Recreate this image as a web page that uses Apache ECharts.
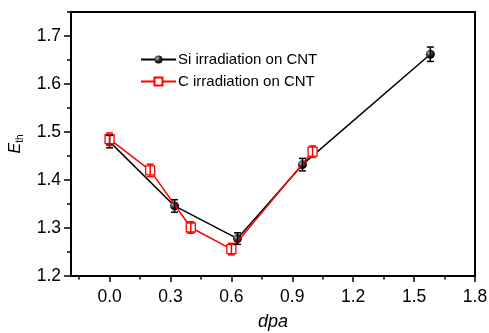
<!DOCTYPE html>
<html>
<head>
<meta charset="utf-8">
<script src="https://cdn.jsdelivr.net/npm/echarts@6/dist/echarts.min.js"></script>
<style>
  html, body { margin: 0; padding: 0; background: #fff; }
  #chart { width: 489px; height: 333px; }
</style>
</head>
<body>
<div id="chart"></div>
<script>
// values
const siDpa = [0, 0.32, 0.63, 0.95, 1.58];
const siEth = [1.48, 1.346, 1.278, 1.432, 1.662];
const siErr = [0.013, 0.013, 0.012, 0.013, 0.015];

const cDpa = [0, 0.2, 0.4, 0.6, 1.0];
const cEth = [1.485, 1.42, 1.301, 1.256, 1.459];
const cErr = [0.013, 0.013, 0.012, 0.012, 0.012];

const xMajor = [0, 0.3, 0.6, 0.9, 1.2, 1.5, 1.8];
const xMinor = [-0.15, 0.15, 0.45, 0.75, 1.05, 1.35, 1.65];
const yMajor = [1.2, 1.3, 1.4, 1.5, 1.6, 1.7];
const yMinor = [1.25, 1.35, 1.45, 1.55, 1.65, 1.75];

const font = "Liberation Sans, Arial, sans-serif";

const pairs = (xs, ys) => xs.map((x, i) => [x, ys[i]]);
const errRows = (xs, ys, es) => xs.map((x, i) => [x, ys[i] - es[i], ys[i] + es[i]]);

function errorBar(color) {
  return function (params, api) {
    const x = api.value(0);
    const lo = api.coord([x, api.value(1)]);
    const hi = api.coord([x, api.value(2)]);
    const cap = 3.5;
    const style = { stroke: color, lineWidth: 1.5 };
    return {
      type: "group",
      children: [
        { type: "line", shape: { x1: lo[0], y1: lo[1], x2: hi[0], y2: hi[1] }, style },
        { type: "line", shape: { x1: lo[0] - cap, y1: lo[1], x2: lo[0] + cap, y2: lo[1] }, style },
        { type: "line", shape: { x1: hi[0] - cap, y1: hi[1], x2: hi[0] + cap, y2: hi[1] }, style },
      ],
    };
  };
}

const xBase = {
  type: "value",
  min: -0.19,
  max: 1.8,
  position: "bottom",
  splitLine: { show: false },
  axisLine: { onZero: false, lineStyle: { color: "#000", width: 2 } },
};
const yBase = {
  type: "value",
  min: 1.2,
  max: 1.75,
  position: "left",
  splitLine: { show: false },
  axisLine: { onZero: false, lineStyle: { color: "#000", width: 2 } },
};

const chart = echarts.init(document.getElementById("chart"));
chart.setOption({
  animation: false,
  backgroundColor: "#fff",
  grid: {
    left: 71, top: 12, right: 14, bottom: 57,
    outerBoundsMode: "none",
    containLabel: false,
    show: true, borderColor: "#000", borderWidth: 2,
  },
  legend: {
    left: 135,
    top: 47,
    orient: "vertical",
    itemWidth: 35,
    itemHeight: 10,
    itemGap: 7,
    data: ["Si irradiation on CNT", "C irradiation on CNT"],
    textStyle: { fontFamily: font, fontSize: 15, lineHeight: 14, color: "#000", padding: [0, 0, 0, -3] },
  },
  xAxis: [
    Object.assign({}, xBase, {
      name: "dpa",
      nameLocation: "middle",
      nameGap: 37,
      nameTextStyle: { fontFamily: font, fontSize: 18, fontStyle: "italic", color: "#000" },
      axisTick: { customValues: xMajor, length: 6, lineStyle: { color: "#000", width: 1.5 } },
      axisLabel: { customValues: xMajor, margin: 12, fontFamily: font, fontSize: 17.5, color: "#000",
        formatter: v => v.toFixed(1) },
    }),
    Object.assign({}, xBase, {
      axisTick: { customValues: xMinor, length: 3.5, lineStyle: { color: "#000", width: 1.5 } },
      axisLabel: { show: false },
    }),
  ],
  yAxis: [
    Object.assign({}, yBase, {
      name: "{e|E}{s|th}",
      nameLocation: "middle",
      nameGap: 46,
      nameRotate: 90,
      nameTextStyle: {
        rich: {
          e: { fontFamily: font, fontSize: 16, fontStyle: "italic", color: "#000" },
          s: { fontFamily: font, fontSize: 10, color: "#000", padding: [9, 0, 0, 0] },
        },
      },
      axisTick: { customValues: yMajor, length: 7, lineStyle: { color: "#000", width: 1.5 } },
      axisLabel: { customValues: yMajor, margin: 10, fontFamily: font, fontSize: 17.5, color: "#000",
        formatter: v => v.toFixed(1) },
    }),
    Object.assign({}, yBase, {
      axisTick: { customValues: yMinor, length: 4, lineStyle: { color: "#000", width: 1.5 } },
      axisLabel: { show: false },
    }),
  ],
  series: [
    {
      name: "Si irradiation on CNT",
      type: "line",
      data: pairs(siDpa, siEth),
      symbol: "circle",
      symbolSize: 9,
      z: 3,
      lineStyle: { color: "#000", width: 1.5 },
      itemStyle: {
        borderWidth: 0,
        color: {
          type: "radial", x: 0.35, y: 0.35, r: 0.65,
          colorStops: [
            { offset: 0, color: "#bbbbbb" },
            { offset: 0.5, color: "#333333" },
            { offset: 1, color: "#000000" },
          ],
        },
      },
    },
    {
      name: "C irradiation on CNT",
      type: "line",
      data: pairs(cDpa, cEth),
      symbol: "rect",
      symbolSize: 9,
      z: 4,
      lineStyle: { color: "#ff0000", width: 1.5 },
      itemStyle: { color: "#fff", borderColor: "#ff0000", borderWidth: 1.3 },
    },
    {
      type: "custom",
      data: errRows(siDpa, siEth, siErr),
      renderItem: errorBar("#000"),
      z: 5,
      encode: { x: 0, y: [1, 2] },
    },
    {
      type: "custom",
      data: errRows(cDpa, cEth, cErr),
      renderItem: errorBar("#ff0000"),
      z: 5,
      encode: { x: 0, y: [1, 2] },
    },
  ],
});
</script>
</body>
</html>
